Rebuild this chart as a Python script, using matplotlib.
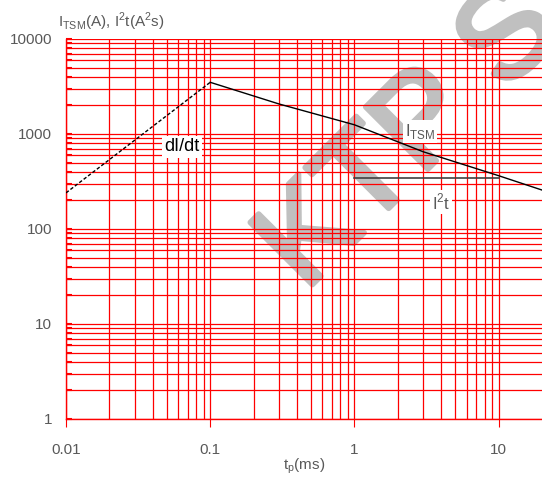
import matplotlib
matplotlib.use("Agg")
import matplotlib.pyplot as plt
import matplotlib.patheffects as pe
from matplotlib.ticker import FixedLocator, NullFormatter

plt.rcParams['font.family'] = ['Liberation Sans', 'DejaVu Sans']

# surge current after the peak (ms, A)
t_itsm = [0.1, 0.3, 1, 3, 10, 20]
itsm = [3500, 2070, 1250, 650, 364, 257]

# dI/dt limited rise (ms, A)
t_didt = [0.01, 0.1]
didt = [240, 3500]

# I2t (ms, A2s)
t_i2t = [1, 10]
i2t = [345, 345]

x_ticks = [0.01, 0.1, 1, 10]
x_labels = ['0.01', '0.1', '1', '10']
y_ticks = [1, 10, 100, 1000, 10000]
y_labels = ['1', '10', '100', '1000', '10000']

grey = '#595959'

fig = plt.figure(figsize=(5.42, 4.79), dpi=100)
ax = fig.add_axes([0.1218, 0.1253, 1 - 0.1218, 0.9186 - 0.1253])
ax.patch.set_alpha(0)

ax.set_xscale('log')
ax.set_yscale('log')
ax.set_xlim(0.01, 20)
ax.set_ylim(1, 10000)

# grid, vertical lines only up to 10 ms
vminor = [m * 10.0 ** e for e in (-2, -1, 0) for m in range(2, 10)]
for v in vminor + x_ticks:
    ax.axvline(v, color='red', lw=0.9, zorder=1)
yminor = [m * 10.0 ** e for e in (0, 1, 2, 3) for m in range(2, 10)]
for h in yminor + y_ticks:
    ax.axhline(h, color='red', lw=0.9, zorder=1)

ax.plot(t_didt, didt, color='black', lw=1.0, linestyle=(0, (2.5, 1.5)), zorder=3)
ax.plot(t_itsm, itsm, color='black', lw=1.0, zorder=3)
ax.plot(t_i2t, i2t, color='#404040', lw=1.2, zorder=3)

box = dict(facecolor='white', edgecolor='none', pad=1.5)
ax.text(0.064, 730, 'dI/dt', fontsize=13, color='black', ha='center', va='center', bbox=box, zorder=4)
ax.text(2.84, 1050, r'I$_{\mathregular{TSM}}$', fontsize=12, color=grey, ha='center', va='center', bbox=box, zorder=4)
ax.text(3.97, 192, r'I$^{\mathregular{2}}$t', fontsize=12, color=grey, ha='center', va='center', bbox=box, zorder=4)

ax.xaxis.set_major_locator(FixedLocator(x_ticks))
ax.set_xticklabels(x_labels)
ax.xaxis.set_minor_formatter(NullFormatter())
ax.yaxis.set_major_locator(FixedLocator(y_ticks))
ax.set_yticklabels(y_labels)
ax.yaxis.set_minor_locator(FixedLocator(yminor))
ax.yaxis.set_minor_formatter(NullFormatter())
ax.tick_params(axis='x', which='major', direction='out', length=6, color='red', pad=11, labelsize=11, labelcolor=grey)
ax.tick_params(axis='x', which='minor', length=0)
ax.tick_params(axis='y', which='both', direction='in', length=4, color='red', width=1.5, pad=10, labelsize=11, labelcolor=grey)

for s in ['top', 'right']:
    ax.spines[s].set_visible(False)
for s in ['left', 'bottom']:
    ax.spines[s].set_color('red')
    ax.spines[s].set_linewidth(1.0)

ax.set_xlabel(r't$_{\mathregular{p}}$(ms)', fontsize=11, color=grey, labelpad=0)
fig.text(58 / 542, 1 - 22 / 479, r'I$_{\mathregular{TSM}}$(A), I$^{\mathregular{2}}$t(A$^{\mathregular{2}}$s)',
         fontsize=11, color=grey, ha='left', va='center')

# watermark, beneath the grid
fig.text(305 / 542, 1 - 292 / 479, 'KTP SE', fontsize=92, color='#c0c0c0',
         rotation=45, rotation_mode='anchor', ha='left', va='baseline', zorder=-1,
         path_effects=[pe.withStroke(linewidth=4, foreground='#c0c0c0')])

fig.savefig('out.png', dpi=100)
